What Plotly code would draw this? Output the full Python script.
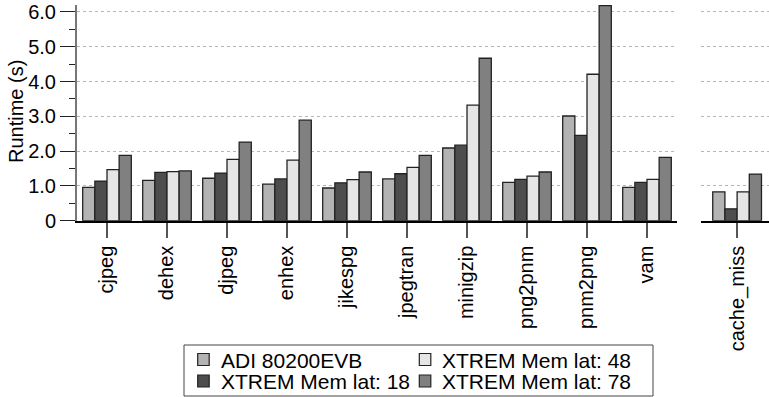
import plotly.graph_objects as go

# Runtime (s) per benchmark for each configuration
benchmarks = ["cjpeg", "dehex", "djpeg", "enhex", "jikespg", "jpegtran",
              "minigzip", "png2pnm", "pnm2png", "vam"]
adi_80200evb = [0.96, 1.16, 1.22, 1.05, 0.94, 1.20, 2.09, 1.10, 3.01, 0.96]
xtrem_lat18 = [1.14, 1.39, 1.37, 1.20, 1.09, 1.35, 2.17, 1.19, 2.45, 1.10]
xtrem_lat48 = [1.47, 1.41, 1.76, 1.74, 1.18, 1.53, 3.32, 1.28, 4.21, 1.19]
xtrem_lat78 = [1.88, 1.43, 2.26, 2.89, 1.40, 1.88, 4.67, 1.40, 6.18, 1.82]

# Micro-benchmark shown in its own panel
micro = ["cache_miss"]
micro_adi = [0.83]
micro_lat18 = [0.34]
micro_lat48 = [0.83]
micro_lat78 = [1.34]

series_names = ["ADI 80200EVB", "XTREM Mem lat: 18",
                "XTREM Mem lat: 48", "XTREM Mem lat: 78"]
fills = ["#b3b3b3", "#4d4d4d", "#e5e5e5", "#808080"]

y_tick_vals = [0, 1, 2, 3, 4, 5, 6]
y_tick_text = ["0", "1.0", "2.0", "3.0", "4.0", "5.0", "6.0"]

FONT = "Liberation Sans, Arial, Helvetica, sans-serif"
W, H = 769, 397
EDGE = "#222222"

main_series = [adi_80200evb, xtrem_lat18, xtrem_lat48, xtrem_lat78]
micro_series = [micro_adi, micro_lat18, micro_lat48, micro_lat78]

fig = go.Figure()
for name, vals, col in zip(series_names, main_series, fills):
    fig.add_trace(go.Bar(
        x=benchmarks, y=vals, name=name, showlegend=False,
        marker=dict(color=col, line=dict(color=EDGE, width=1.3)),
        xaxis="x", yaxis="y",
    ))
for name, vals, col in zip(series_names, micro_series, fills):
    fig.add_trace(go.Bar(
        x=micro, y=vals, name=name, showlegend=False,
        marker=dict(color=col, line=dict(color=EDGE, width=1.3)),
        xaxis="x2", yaxis="y2",
    ))


# pixel -> paper helpers
def px_x(p):
    return p / W


def px_y(p):
    return 1 - p / H


y_dom = [px_y(220.7), px_y(5)]
y_range = [0, 6.2]

grid = dict(showgrid=True, gridcolor="#b5b5b5", griddash="3px,3px", gridwidth=1)

# Boxed two-column key below the plot (column-major order)
shapes = [dict(type="rect", xref="paper", yref="paper",
               x0=px_x(184), x1=px_x(653), y0=px_y(396), y1=px_y(345),
               line=dict(color="#444444", width=1), fillcolor="white", layer="above")]
annotations = []
key_cols = [197.7, 419.3]     # swatch left edge per column (px)
key_rows = [359.5, 381.0]     # row centre (px)
for i, (name, col) in enumerate(zip(series_names, fills)):
    cx = key_cols[i // 2]
    cy = key_rows[i % 2]
    shapes.append(dict(type="rect", xref="paper", yref="paper",
                       x0=px_x(cx), x1=px_x(cx + 11.5),
                       y0=px_y(cy + 6), y1=px_y(cy - 6),
                       fillcolor=col, line=dict(color=EDGE, width=1.2),
                       layer="above"))
    annotations.append(dict(text=name, showarrow=False, xref="paper", yref="paper",
                            x=px_x(cx + 21), y=px_y(cy + 0.5),
                            xanchor="left", yanchor="middle",
                            font=dict(size=21)))

annotations.append(dict(
    text="Runtime (s)", textangle=-90, showarrow=False,
    xref="paper", yref="paper", x=px_x(16), y=px_y(112),
    xanchor="center", yanchor="middle", font=dict(size=20),
))

fig.update_layout(
    width=W, height=H,
    margin=dict(l=0, r=0, t=0, b=0, autoexpand=False),
    paper_bgcolor="white", plot_bgcolor="white",
    font=dict(family=FONT, size=20, color="black"),
    barmode="group", bargap=0.19, bargroupgap=0,
    showlegend=False,
    xaxis=dict(
        domain=[px_x(77), px_x(677)], range=[-0.5, 9.5],
        showline=True, linecolor="black", linewidth=2,
        ticks="outside", ticklen=15, tickcolor="#555555", tickwidth=1.5,
        tickangle=-90, tickfont=dict(size=20), showgrid=False,
        automargin=False, fixedrange=True,
    ),
    yaxis=dict(
        domain=y_dom, range=y_range,
        tickvals=y_tick_vals, ticktext=y_tick_text,
        ticks="outside", ticklen=15, tickcolor="#222222", tickwidth=1.3,
        minor=dict(dtick=0.5, ticks="outside", ticklen=6, tickcolor="#222222",
                   tickwidth=1.3, showgrid=False),
        showline=True, linecolor="#777777", linewidth=2,
        zeroline=False, tickfont=dict(size=20),
        automargin=False, **grid,
    ),
    xaxis2=dict(
        domain=[px_x(701), 1.0], range=[-0.6, 0.53],
        showline=True, linecolor="black", linewidth=2,
        ticks="outside", ticklen=15, tickcolor="#555555", tickwidth=1.5,
        tickangle=-90, tickfont=dict(size=20), showgrid=False,
        automargin=False, anchor="y2",
    ),
    yaxis2=dict(
        domain=y_dom, range=y_range, anchor="x2",
        tickvals=y_tick_vals, showticklabels=False, ticks="",
        showline=False, zeroline=False, automargin=False, **grid,
    ),
    shapes=shapes,
    annotations=annotations,
)

fig.write_html("out.html")
